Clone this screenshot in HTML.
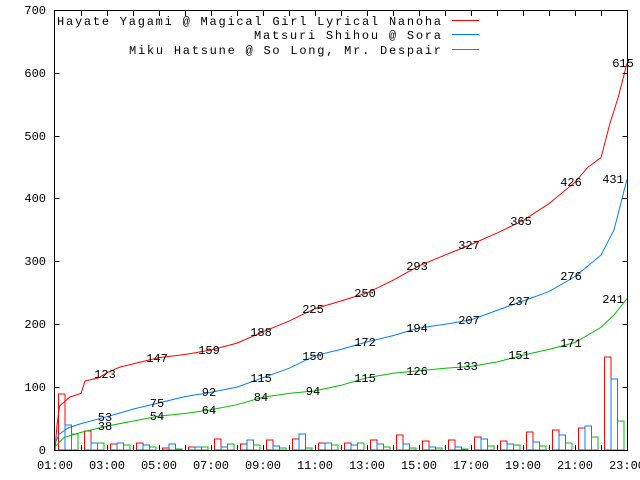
<!DOCTYPE html>
<html><head><style>body{margin:0;background:#fff}svg{display:block}text{font-family:"Liberation Mono","DejaVu Sans Mono",monospace;font-size:12px;fill:#000}</style></head><body>
<svg width="640" height="480" xmlns="http://www.w3.org/2000/svg">
<rect x="0" y="0" width="640" height="480" fill="#fff"/>
<g fill="none" stroke-width="1">
<g stroke="#ff0000">
<rect x="58.5" y="394" width="6.5" height="56"/><rect x="84.5" y="431" width="6.5" height="19"/><rect x="110.5" y="444" width="6.5" height="6"/><rect x="136.5" y="443" width="6.5" height="7"/><rect x="162.5" y="448" width="6.5" height="2"/><rect x="188.5" y="447" width="6.5" height="3"/><rect x="214.5" y="439" width="6.5" height="11"/><rect x="240.5" y="444" width="6.5" height="6"/><rect x="266.5" y="440" width="6.5" height="10"/><rect x="292.5" y="439" width="6.5" height="11"/><rect x="318.5" y="443" width="6.5" height="7"/><rect x="344.5" y="443" width="6.5" height="7"/><rect x="370.5" y="440" width="6.5" height="10"/><rect x="396.5" y="435" width="6.5" height="15"/><rect x="422.5" y="441" width="6.5" height="9"/><rect x="448.5" y="440" width="6.5" height="10"/><rect x="474.5" y="437" width="6.5" height="13"/><rect x="500.5" y="441" width="6.5" height="9"/><rect x="526.5" y="432" width="6.5" height="18"/><rect x="552.5" y="430" width="6.5" height="20"/><rect x="578.5" y="428" width="6.5" height="22"/><rect x="604.5" y="357" width="6.5" height="93"/>
</g>
<g stroke="#0080ff">
<rect x="65" y="425" width="6.5" height="25"/><rect x="91" y="443" width="6.5" height="7"/><rect x="117" y="443" width="6.5" height="7"/><rect x="143" y="445" width="6.5" height="5"/><rect x="169" y="444" width="6.5" height="6"/><rect x="195" y="447" width="6.5" height="3"/><rect x="221" y="447" width="6.5" height="3"/><rect x="247" y="440" width="6.5" height="10"/><rect x="273" y="446" width="6.5" height="4"/><rect x="299" y="434" width="6.5" height="16"/><rect x="325" y="443" width="6.5" height="7"/><rect x="351" y="445" width="6.5" height="5"/><rect x="377" y="444" width="6.5" height="6"/><rect x="403" y="444" width="6.5" height="6"/><rect x="429" y="447" width="6.5" height="3"/><rect x="455" y="447" width="6.5" height="3"/><rect x="481" y="439" width="6.5" height="11"/><rect x="507" y="444" width="6.5" height="6"/><rect x="533" y="442" width="6.5" height="8"/><rect x="559" y="435" width="6.5" height="15"/><rect x="585" y="426" width="6.5" height="24"/><rect x="611" y="379" width="6.5" height="71"/>
</g>
<g stroke="#00c000">
<rect x="71.5" y="434" width="6.5" height="16"/><rect x="97.5" y="443" width="6.5" height="7"/><rect x="123.5" y="445" width="6.5" height="5"/><rect x="149.5" y="447" width="6.5" height="3"/><rect x="175.5" y="449" width="6.5" height="1"/><rect x="201.5" y="447" width="6.5" height="3"/><rect x="227.5" y="444" width="6.5" height="6"/><rect x="253.5" y="445" width="6.5" height="5"/><rect x="279.5" y="448" width="6.5" height="2"/><rect x="305.5" y="448" width="6.5" height="2"/><rect x="331.5" y="445" width="6.5" height="5"/><rect x="357.5" y="443" width="6.5" height="7"/><rect x="383.5" y="447" width="6.5" height="3"/><rect x="409.5" y="448" width="6.5" height="2"/><rect x="435.5" y="448" width="6.5" height="2"/><rect x="461.5" y="449" width="6.5" height="1"/><rect x="487.5" y="446" width="6.5" height="4"/><rect x="513.5" y="445" width="6.5" height="5"/><rect x="539.5" y="446" width="6.5" height="4"/><rect x="565.5" y="443" width="6.5" height="7"/><rect x="591.5" y="437" width="6.5" height="13"/><rect x="617.5" y="421" width="6.5" height="29"/>
</g>
<polyline stroke="#ff0000" points="55,450 57,425 59.5,406 70,397 81,393.4 85,381 98,378 107,372.7 120,367 133,363.9 159,357.6 185,354.5 211,350 237,343.1 263,331.8 289,321.1 315,308.6 341,301 367,292.9 393,280.3 419,265.8 445,255.1 471,244.5 497,233.1 523,220.6 549,203.6 575,182.2 588,167.1 601,157.7 610,123.1 618,98 627,63.4"/>
<polyline stroke="#0080ff" points="55,443.7 59,434.3 68,428 81,423.6 107,416.7 133,409.1 159,402.9 185,396.6 211,392.2 237,387.1 263,377.7 289,368.3 315,355.7 341,349.4 367,341.9 393,335.6 419,328 445,324.3 471,319.9 497,310.4 523,301 549,291.6 575,276.5 601,255.1 614,230 627,179.1"/>
<polyline stroke="#00c000" points="55,446.9 64,437.4 81,432.4 107,426.1 133,421.1 159,416.1 185,413.5 211,409.8 237,404.7 263,397.2 289,393.4 315,390.9 341,385.3 367,377.7 393,373.3 419,370.8 445,368.3 471,366.4 497,362 523,355.1 549,349.4 575,342.5 601,327.4 614,314.9 627,298.5"/>
<rect x="54.5" y="10.5" width="573" height="440" stroke="#000"/>
<path stroke="#000" d="M54.5,387.5h5M54.5,324.5h5M54.5,261.5h5M54.5,198.5h5M54.5,136.5h5M54.5,73.5h5M627.5,387.5h-5M627.5,324.5h-5M627.5,261.5h-5M627.5,198.5h-5M627.5,136.5h-5M627.5,73.5h-5
M81.5,450v-5M107.5,450v-5M133.5,450v-5M159.5,450v-5M185.5,450v-5M211.5,450v-5M237.5,450v-5M263.5,450v-5M289.5,450v-5M315.5,450v-5M341.5,450v-5M367.5,450v-5M393.5,450v-5M419.5,450v-5M445.5,450v-5M471.5,450v-5M497.5,450v-5M523.5,450v-5M549.5,450v-5M575.5,450v-5M601.5,450v-5
M81.5,11v5M107.5,11v5M133.5,11v5M159.5,11v5M185.5,11v5M211.5,11v5M237.5,11v5M263.5,11v5M289.5,11v5M315.5,11v5M341.5,11v5M367.5,11v5M393.5,11v5M419.5,11v5M445.5,11v5M471.5,11v5M497.5,11v5M523.5,11v5M549.5,11v5M575.5,11v5M601.5,11v5"/>
<path stroke="#ff0000" d="M452,20.5h27"/><path stroke="#0080ff" d="M452,34.5h27"/><path stroke="#00c000" d="M452,49.5h27"/>
</g>
<g text-anchor="end">
<text x="46" y="454">0</text><text x="46" y="391">100</text><text x="46" y="328">200</text><text x="46" y="265">300</text><text x="46" y="202">400</text><text x="46" y="140">500</text><text x="46" y="77">600</text><text x="46" y="14">700</text>
</g>
<text x="57" y="25" font-size="13" textLength="384" lengthAdjust="spacing">Hayate Yagami @ Magical Girl Lyrical Nanoha</text>
<text x="254" y="39" font-size="13" textLength="187" lengthAdjust="spacing">Matsuri Shihou @ Sora</text>
<text x="129" y="54" font-size="13" textLength="312" lengthAdjust="spacing">Miku Hatsune @ So Long, Mr. Despair</text>
<g text-anchor="middle">
<text x="55" y="469">01:00</text><text x="107" y="469">03:00</text><text x="159" y="469">05:00</text><text x="211" y="469">07:00</text><text x="263" y="469">09:00</text><text x="315" y="469">11:00</text><text x="367" y="469">13:00</text><text x="419" y="469">15:00</text><text x="471" y="469">17:00</text><text x="523" y="469">19:00</text><text x="575" y="469">21:00</text><text x="627" y="469">23:00</text>
<text x="105" y="378">123</text><text x="157" y="362">147</text><text x="209" y="354">159</text><text x="261" y="336">188</text><text x="313" y="313">225</text><text x="365" y="297">250</text><text x="417" y="270">293</text><text x="469" y="249">327</text><text x="521" y="225">365</text><text x="571" y="186">426</text><text x="623" y="67">615</text>
<text x="105" y="421">53</text><text x="157" y="407">75</text><text x="209" y="396">92</text><text x="261" y="382">115</text><text x="313" y="360">150</text><text x="365" y="346">172</text><text x="417" y="332">194</text><text x="469" y="324">207</text><text x="519" y="305">237</text><text x="571" y="280">276</text><text x="613" y="183">431</text>
<text x="105" y="430">38</text><text x="157" y="420">54</text><text x="209" y="414">64</text><text x="261" y="401">84</text><text x="313" y="395">94</text><text x="365" y="382">115</text><text x="417" y="375">126</text><text x="467" y="370">133</text><text x="519" y="359">151</text><text x="571" y="347">171</text><text x="613" y="303">241</text>
</g>
</svg>
</body></html>
